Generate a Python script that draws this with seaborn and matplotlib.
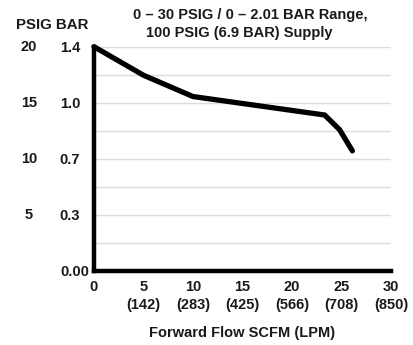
import matplotlib
matplotlib.use("Agg")
import matplotlib.pyplot as plt
import matplotlib.transforms as mtrans
import numpy as np
import pandas as pd
import seaborn as sns

# ── data ─────────────────────────────────────────────────────────────────────
flow_scfm = [0, 5, 10, 23.3, 24.8, 26.1]
pressure_psig = [20, 17.45, 15.55, 13.9, 12.6, 10.7]

x_ticks = [0, 5, 10, 15, 20, 25, 30]
x_lpm = ["", "(142)", "(283)", "(425)", "(566)", "(708)", "(850)"]
y_ticks = [0, 5, 10, 15, 20]
psig_labels = ["", "5", "10", "15", "20"]
bar_labels = ["0.00", "0.3", "0.7", "1.0", "1.4"]
grid_psig = [2.5, 5, 7.5, 10, 12.5, 15, 17.5, 20]

df = pd.DataFrame({"flow": flow_scfm, "psig": pressure_psig})

sns.set_style("white")
plt.rcParams["font.family"] = ["Liberation Sans", "DejaVu Sans"]
plt.rcParams["font.weight"] = "bold"
TXT = "#1a1a1a"

fig = plt.figure(figsize=(4.14, 3.45), dpi=100)
ax = fig.add_axes([94 / 414, 1 - 270.7 / 345, 297 / 414, 224 / 345])

for g in grid_psig:
    ax.axhline(g, color="#dcdcdc", lw=1.0, zorder=0)

sns.lineplot(data=df, x="flow", y="psig", ax=ax, color="black", lw=3.8,
             clip_on=False, zorder=3)
ax.lines[-1].set_solid_joinstyle("miter")

ax.set_xlim(0, 30)
ax.set_ylim(0, 20)
for s in ["top", "right"]:
    ax.spines[s].set_visible(False)
for s in ["left", "bottom"]:
    ax.spines[s].set_linewidth(3.2)
    ax.spines[s].set_color("black")
    ax.spines[s].set_zorder(4)

xl = [f"{t}\n{l}" if l else f"{t}" for t, l in zip(x_ticks, x_lpm)]
ax.set_xticks(x_ticks, labels=xl)
ax.tick_params(axis="x", length=0, pad=7, labelsize=10.5, labelcolor=TXT)
for lab in ax.get_xticklabels():
    lab.set_verticalalignment("top")
    lab.set_linespacing(1.3)
    lab.set_fontweight("bold")

ax.set_yticks(y_ticks, labels=bar_labels)
ax.tick_params(axis="y", length=0, pad=10, labelsize=10.5, labelcolor=TXT)
for lab in ax.get_yticklabels():
    lab.set_fontweight("bold")
# the 0.00 label sits closer to the axis
lab0 = ax.get_yticklabels()[0]
lab0.set_transform(lab0.get_transform() +
                   mtrans.ScaledTranslation(9 / 100, 0, fig.dpi_scale_trans))

trans = mtrans.blended_transform_factory(ax.transAxes, ax.transData)
for y, t in zip(y_ticks, psig_labels):
    if t:
        ax.text(-0.219, y, t, transform=trans, ha="center", va="center",
                fontsize=10.5, fontweight="bold", color=TXT)

fig.text(52 / 414, 1 - 25 / 345, "PSIG BAR", ha="center", va="center",
         fontsize=10.8, fontweight="bold", color=TXT)
fig.text(250 / 414, 1 - 15 / 345, "0 \u2013 30 PSIG / 0 \u2013 2.01 BAR Range,",
         ha="center", va="center", fontsize=10.5, fontweight="bold", color=TXT)
fig.text(239 / 414, 1 - 33 / 345, "100 PSIG (6.9 BAR) Supply",
         ha="center", va="center", fontsize=10.5, fontweight="bold", color=TXT)

ax.set_xlabel("")
ax.set_ylabel("")
fig.text(242 / 414, 1 - 333 / 345, "Forward Flow SCFM (LPM)", ha="center",
         va="center", fontsize=10.5, fontweight="bold", color=TXT)

fig.savefig("out.png", dpi=100)
